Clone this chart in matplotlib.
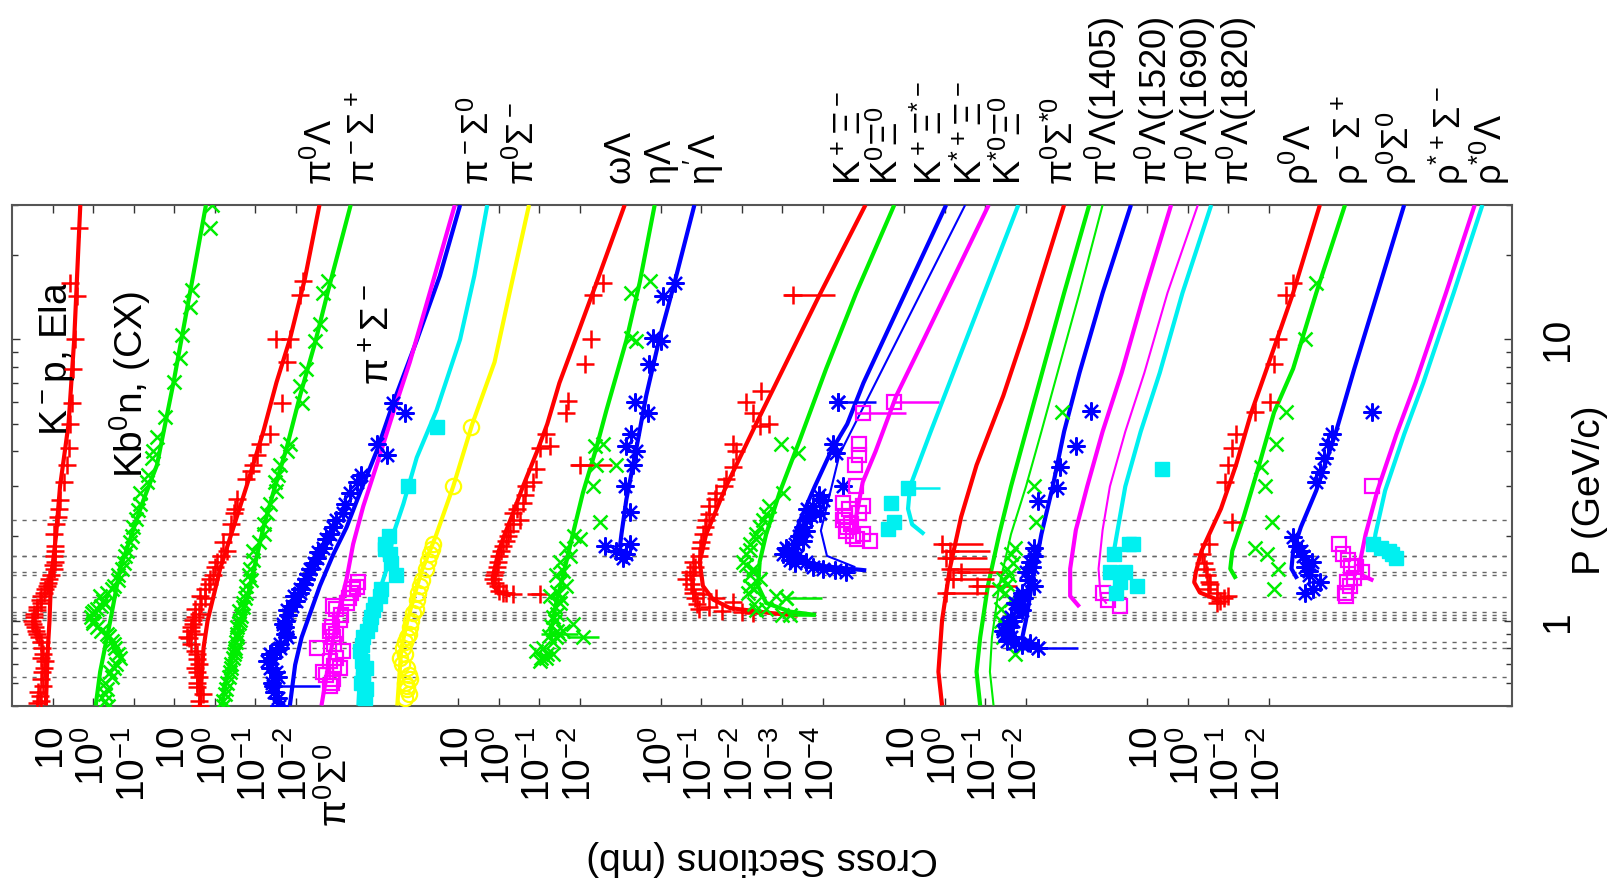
import numpy as np
import matplotlib
matplotlib.use("Agg")
import matplotlib.pyplot as plt

plt.rcParams['font.family'] = ['Liberation Sans', 'DejaVu Sans']
plt.rcParams['mathtext.default'] = 'regular'

# --- axis layout (stacked log axis: one unit = one decade) ---
XMAX = 37
PMIN, PMAX = 0.5, 30
XTICKS = [1, 2, 3, 4, 5, 6, 7, 11, 12, 13, 14, 16, 17, 18, 19, 20,
          22, 23, 24, 25, 28, 29, 30, 31]
XTICKLABELS = ['10', '10^0', '10^{-1}', '10', '10^0', '10^{-1}', '10^{-2}',
               '10', '10^0', '10^{-1}', '10^{-2}',
               '10^0', '10^{-1}', '10^{-2}', '10^{-3}', '10^{-4}',
               '10', '10^0', '10^{-1}', '10^{-2}',
               '10', '10^0', '10^{-1}', '10^{-2}']
THRESH_P = [0.629, 0.80, 0.844, 1.008, 1.027, 1.05, 1.074, 1.21, 1.457,
            1.496, 1.692, 1.70, 2.283]

TOP_LABELS = [r'\pi^0\Lambda', r'\pi^-\Sigma^+', r'\pi^-\Sigma^0', r'\pi^0\Sigma^-',
              r'\omega\Lambda', r'\eta\Lambda', r"\eta'\Lambda",
              r'K^+\Xi^-', r'K^0\Xi^0', r'K^+\Xi^{*-}', r'K^{*+}\Xi^-', r'K^{*0}\Xi^0',
              r'\pi^0\Sigma^{*0}', r'\pi^0\Lambda(1405)', r'\pi^0\Lambda(1520)',
              r'\pi^0\Lambda(1690)', r'\pi^0\Lambda(1820)',
              r'\rho^0\Lambda', r'\rho^-\Sigma^+', r'\rho^0\Sigma^0',
              r'\rho^{*+}\Sigma^-', r'\rho^{*0}\Lambda']
TOP_LABEL_X = [7.64, 8.70, 11.51, 12.62, 15.04, 16.03, 17.06,
               20.69, 21.60, 22.69, 23.68, 24.64,
               25.92, 26.95, 28.20, 29.20, 30.22,
               31.75, 33.00, 34.15, 35.45, 36.45]

# --- group 1 ---
kpe_line_p = [30, 10, 5, 3, 2, 1.5, 1.2, 1.0, 0.8, 0.5]
kpe_line_u = [1.68, 1.53, 1.39, 1.18, 1.08, 0.98, 0.94, 0.92, 0.88, 0.83]
kpe_p = [0.511, 0.54, 0.588, 0.659, 0.717, 0.759, 0.80, 0.873, 0.922, 0.977, 1.034,
         1.094, 1.19, 1.26, 1.33, 1.41, 1.53, 1.62, 1.77, 2.03, 2.34, 2.69, 3.10,
         3.57, 4.11, 5.01, 5.93, 7.86, 9.99, 14.2, 15.9, 24.9,
         0.52, 0.56, 0.62, 0.68, 0.74, 0.84, 0.90, 0.95, 1.0, 1.06, 1.12, 1.16,
         1.22, 1.3, 1.36, 1.45, 1.58, 1.7, 1.85, 2.2, 2.5]
kpe_u = [0.61, 0.68, 0.75, 0.73, 0.80, 0.77, 0.74, 0.65, 0.58, 0.52, 0.53,
         0.60, 0.69, 0.78, 0.85, 0.92, 1.02, 1.05, 1.06, 1.02, 1.14, 1.18, 1.27,
         1.35, 1.39, 1.43, 1.47, 1.51, 1.55, 1.59, 1.43, 1.64,
         0.70, 0.64, 0.72, 0.78, 0.70, 0.70, 0.62, 0.56, 0.50, 0.55, 0.62, 0.70,
         0.72, 0.82, 0.88, 0.95, 1.00, 1.04, 1.05, 1.08, 1.16]

kbn_line_p = [30, 15, 7.03, 3.57, 2.69, 2.03, 1.53, 1.0, 0.659, 0.5]
kbn_line_u = [4.78, 4.40, 3.98, 3.57, 3.24, 2.95, 2.66, 2.42, 2.17, 2.06]
kbn_p = [0.5, 0.55, 0.571, 0.6, 0.659, 0.7, 0.737, 0.80, 0.85, 0.899, 0.95, 1.0,
         1.063, 1.1, 1.15, 1.224, 1.33, 1.4, 1.53, 1.77, 1.9, 2.15, 2.47, 2.85,
         3.1, 4.0, 4.48, 5.3, 7.03, 8.57, 10.4, 13.0, 15.0, 24.9, 30,
         0.52, 0.63, 0.68, 0.76, 0.83, 0.88, 0.92, 0.98, 1.03, 1.08, 1.13, 1.18,
         1.26, 1.3, 1.45, 1.6, 1.7, 2.0, 2.3, 2.6, 3.3, 3.8]
kbn_u = [2.37, 2.30, 2.33, 2.30, 2.42, 2.55, 2.66, 2.54, 2.45, 2.33, 2.09, 2.00,
         1.96, 2.10, 2.30, 2.17, 2.50, 2.60, 2.70, 2.83, 2.90, 2.99, 3.11, 3.16,
         3.32, 3.48, 3.57, 3.77, 3.98, 4.14, 4.18, 4.39, 4.43, 4.88, 4.92,
         2.30, 2.45, 2.50, 2.60, 2.50, 2.40, 2.20, 2.00, 1.95, 2.02, 2.20, 2.25,
         2.35, 2.45, 2.62, 2.75, 2.78, 2.95, 3.05, 3.15, 3.35, 3.45]

# --- group 2 ---
pl_line_p = [30, 16.4, 10, 7.03, 4.73, 3.0, 2.15, 1.53, 1.0, 0.8, 0.5]
pl_line_u = [7.58, 7.22, 6.85, 6.52, 6.20, 5.78, 5.46, 5.13, 4.82, 4.72, 4.63]
pl_p = [16.1, 14.4, 10, 10, 8.3, 5.96, 4.6, 4.23, 3.89, 3.57, 3.19, 2.7, 2.41, 2.03,
        1.9, 1.77, 1.62, 1.41, 1.3, 1.224, 1.1, 1.005, 0.95, 0.9, 0.873, 0.759,
        0.7, 0.659, 0.6, 0.55, 0.5,
        0.52, 0.58, 0.63, 0.68, 0.73, 0.78, 0.83, 0.87, 0.92, 0.97, 1.03, 1.06,
        1.15, 1.2, 1.35, 1.45, 1.55, 1.7, 2.2, 2.5, 3.4]
pl_u = [7.18, 7.10, 6.85, 6.52, 6.77, 6.65, 6.36, 6.11, 6.03, 5.95, 5.78, 5.55, 5.46,
        5.37, 5.20, 5.29, 5.05, 4.88, 4.75, 4.63, 4.50, 4.47, 4.40, 4.50, 4.31, 4.55,
        4.60, 4.55, 4.55, 4.70, 4.63,
        4.60, 4.55, 4.62, 4.50, 4.55, 4.50, 4.40, 4.35, 4.40, 4.45, 4.50, 4.60,
        4.65, 4.75, 4.85, 4.95, 5.00, 5.15, 5.40, 5.50, 5.90]

pms_line_p = [30, 15.0, 9.7, 6.3, 4.11, 2.85, 2.15, 1.33, 0.873, 0.622, 0.5]
pms_line_u = [8.35, 7.80, 7.47, 7.10, 6.77, 6.44, 6.20, 5.87, 5.54, 5.29, 5.17]
pms_p = [16.1, 14.6, 11.3, 9.9, 7.86, 6.83, 5.94, 4.23, 4.0, 3.57, 3.1, 2.41, 2.03,
         1.77, 1.53, 1.4, 1.33, 1.2, 1.157, 1.08, 1.005, 0.95, 0.873, 0.8, 0.759,
         0.7, 0.659, 0.6, 0.55, 0.5,
         0.52, 0.57, 0.63, 0.68, 0.74, 0.78, 0.84, 0.9, 0.98, 1.04, 1.12, 1.25,
         1.45, 1.65, 1.9, 2.2, 2.6, 2.9, 3.3]
pms_u = [7.80, 7.67, 7.59, 7.47, 7.26, 7.10, 7.14, 6.85, 6.77, 6.61, 6.48, 6.28, 6.20,
         5.95, 5.87, 5.90, 5.78, 5.75, 5.70, 5.60, 5.62, 5.55, 5.54, 5.50, 5.46,
         5.40, 5.37, 5.30, 5.25, 5.21,
         5.20, 5.28, 5.35, 5.40, 5.45, 5.50, 5.52, 5.55, 5.60, 5.65, 5.70, 5.78,
         5.85, 5.95, 6.10, 6.22, 6.35, 6.50, 6.55]

ppsm_line_p = [30, 16.8, 9.9, 5.94, 4.0, 2.85, 2.15, 1.72, 1.33, 1.063, 0.873, 0.697, 0.5]
ppsm_line_u = [11.05, 10.55, 9.98, 9.40, 8.99, 8.58, 8.25, 7.92, 7.59, 7.35, 7.14, 6.98, 6.85]
ppsm_p = [5.94, 5.49, 4.23, 3.89, 3.1, 2.85, 2.41, 2.28, 2.03, 1.82, 1.67, 1.53, 1.41,
          1.295, 1.224, 1.094, 0.977, 0.873, 0.80, 0.759, 0.717, 0.659, 0.5,
          0.53, 0.56, 0.6, 0.63, 0.68, 0.74, 0.78, 0.83, 0.9, 0.95, 1.0, 1.05,
          1.13, 1.18, 1.26, 1.35, 1.47, 1.6, 1.75, 1.95, 2.15, 2.6, 3.3]
ppsm_u = [9.40, 9.69, 8.99, 9.24, 8.50, 8.33, 8.17, 8.00, 7.84, 7.67, 7.51, 7.35, 7.26,
          7.10, 6.94, 6.77, 6.69, 6.77, 6.61, 6.36, 6.28, 6.52, 6.57,
          6.55, 6.45, 6.40, 6.55, 6.35, 6.40, 6.50, 6.60, 6.72, 6.72, 6.75, 6.80,
          6.90, 7.00, 7.10, 7.20, 7.30, 7.45, 7.55, 7.75, 7.92, 8.20, 8.60]
ppsm_err_p = [0.588]
ppsm_err_u = [6.44]
ppsm_err_hi = [1.15]

p0s0_line_p = [30, 14.6, 8.3, 5.49, 3.57, 2.55, 1.87, 1.41, 1.005, 0.697, 0.5]
p0s0_line_u = [10.92, 10.30, 9.81, 9.40, 8.99, 8.66, 8.41, 8.25, 8.00, 7.80, 7.63]
p0s0_p = [1.37, 1.295, 1.157, 1.125, 1.005, 0.922, 0.873, 0.80, 0.78, 0.717, 0.659,
          0.677, 0.588, 0.622, 0.6, 0.64, 0.69, 0.74, 0.83, 0.9, 0.95, 1.05, 1.1,
          1.2, 1.25, 1.32]
p0s0_u = [8.54, 8.41, 8.25, 7.92, 8.09, 7.84, 7.92, 7.51, 8.17, 7.84, 7.67, 8.09,
          7.84, 7.92, 7.90, 7.75, 7.95, 8.00, 7.95, 8.00, 7.90, 8.10, 8.00, 8.30,
          8.35, 8.50]

pms0_line_p = [30, 16.8, 10, 5.6, 3.8, 2.6, 2.03, 1.53, 1.19, 0.873, 0.659, 0.5]
pms0_line_u = [11.72, 11.40, 11.05, 10.47, 9.98, 9.65, 9.40, 9.24, 8.99, 8.75, 8.58, 8.54]
pms0_p = [4.87, 3.0, 1.87, 1.72, 1.45, 1.224, 1.094, 0.977, 0.873, 0.78, 0.677, 0.622,
          0.571, 0.53, 0.6, 0.65, 0.72, 0.82, 0.92, 1.03, 1.15, 1.3, 1.6, 1.8, 2.0]
pms0_u = [10.47, 9.77, 9.19, 9.32, 9.48, 9.07, 8.91, 8.83, 8.66, 8.58, 8.74, 8.66,
          8.74, 8.70, 8.60, 8.65, 8.62, 8.62, 8.75, 8.85, 8.95, 9.10, 9.35, 9.20, 9.30]

p0sm_line_p = [30, 14.6, 8.3, 5, 3, 2, 1.5, 1.2, 1.0, 0.8, 0.5]
p0sm_line_u = [12.75, 12.27, 11.9, 11.35, 10.88, 10.45, 10.1, 9.9, 9.75, 9.6, 9.5]
p0sm_p = [4.87, 3.0, 1.87, 1.72, 1.53, 1.33, 1.19, 1.063, 0.95, 0.873, 0.80, 0.737,
          0.677, 0.622, 0.588, 0.55, 0.53, 0.57, 0.6, 0.64, 0.7, 0.76, 0.84, 0.9,
          1.0, 1.1, 1.25, 1.4, 1.63, 1.8]
p0sm_u = [11.33, 10.88, 10.39, 10.30, 10.22, 10.06, 9.98, 9.89, 9.81, 9.73, 9.65,
          9.56, 9.73, 9.81, 9.73, 9.80, 9.70, 9.75, 9.70, 9.78, 9.62, 9.68, 9.70,
          9.78, 9.85, 9.95, 10.02, 10.10, 10.26, 10.35]

# --- group 3 ---
wl_line_p = [30, 16.1, 10, 7, 5, 4, 3, 2.4, 2.03, 1.77, 1.53, 1.41, 1.33, 1.26, 1.23]
wl_line_u = [15.11, 14.43, 13.9, 13.5, 13.2, 12.95, 12.6, 12.35, 12.15, 12.0, 11.9,
             11.85, 11.88, 12.0, 12.3]
wl_p = [15.9, 14.4, 10, 8.2, 6.02, 5.49, 4.6, 4.11, 4.17, 3.47, 3.1, 3.0, 2.62, 2.28,
        2.41, 2.09, 1.92, 1.77, 1.62, 1.49, 1.41, 1.33, 1.26, 1.24,
        1.25, 1.28, 1.36, 1.45, 1.55, 1.7, 1.85, 2.0, 2.2, 2.5, 2.8]
wl_u = [14.57, 14.33, 14.29, 14.12, 13.71, 13.67, 13.18, 13.01, 13.26, 12.93, 12.85,
        12.68, 12.60, 12.52, 12.36, 12.27, 12.19, 12.07, 11.99, 11.90, 11.86, 11.99,
        12.19, 12.36,
        12.10, 12.00, 11.90, 11.88, 11.95, 12.02, 12.12, 12.22, 12.35, 12.45, 12.65]
wl_err_p = [3.57, 1.24]
wl_err_u = [14.0, 13.01]
wl_err_lo = [0.25, 0.3]
wl_err_hi = [0.8, 0.0]

el_line_p = [30, 15.9, 9.9, 5.6, 4.11, 2.85, 2.03, 1.53, 1.157, 0.873]
el_line_u = [15.85, 15.48, 15.15, 14.66, 14.41, 14.08, 13.83, 13.63, 13.42, 13.26]
el_p = [16.1, 14.6, 10.1, 9.9, 4.17, 4.23, 3.57, 3.0, 2.24, 1.95, 1.82, 1.62, 1.45,
        1.33, 1.224, 1.157, 1.034, 0.977, 0.922, 0.873, 0.78, 0.739, 0.717, 0.759,
        0.74, 0.76, 0.8, 0.84, 0.88, 0.92, 0.96, 1.0, 1.06, 1.12, 1.2, 1.27, 1.38,
        1.5, 1.7, 2.0]
el_u = [15.73, 15.27, 15.27, 15.40, 14.37, 14.57, 14.41, 14.33, 14.49, 14.0, 13.67,
        13.51, 13.42, 13.67, 13.26, 13.51, 13.34, 13.83, 13.59, 13.42, 12.93, 13.18,
        13.01, 13.34,
        13.05, 13.20, 13.10, 13.35, 13.25, 13.45, 13.30, 13.40, 13.45, 13.40, 13.55,
        13.45, 13.55, 13.60, 13.75, 13.85]
el_err_p = [3.57, 0.873, 0.9]
el_err_u = [14.90, 14.08, 13.5]
el_err_x = [0.0, 0.4, 0.45]

epl_line_p = [30, 15.9, 10.1, 6.3, 4.11, 2.69, 2.03, 1.82]
epl_line_u = [16.83, 16.34, 15.97, 15.64, 15.40, 15.15, 15.03, 14.99]
epl_p = [15.9, 14.2, 10.1, 9.9, 8.2, 6.0, 5.49, 4.6, 4.17, 4.0, 3.57, 3.0, 2.44, 1.84,
         1.77, 1.72, 1.87, 1.67]
epl_u = [16.34, 16.05, 15.81, 16.01, 15.72, 15.36, 15.69, 15.27, 15.15, 15.40, 15.32,
         15.11, 15.23, 14.62, 14.90, 15.15, 15.23, 15.07]

# --- group 4 ---
kpxm_line_p = [30, 14.4, 5.0, 3.0, 2.03, 1.62, 1.33, 1.19, 1.11, 1.063, 1.043]
kpxm_line_u = [21.05, 19.92, 18.35, 17.61, 17.12, 16.96, 17.04, 17.29, 17.70, 18.76, 19.38]
kpxm_p = [6.55, 6.0, 5.49, 4.93, 5.0, 4.23, 4.0, 3.52, 3.0, 2.85, 2.55, 2.28, 2.03,
          1.82, 1.62, 1.49, 1.41, 1.295, 1.24, 1.207, 1.17, 1.063,
          1.1, 1.15, 1.2, 1.26, 1.35, 1.45, 1.55, 1.7, 1.9, 2.15, 2.4, 2.7, 3.2,
          1.08, 1.12, 1.07]
kpxm_u = [18.48, 18.11, 18.27, 18.44, 18.68, 17.78, 17.86, 17.78, 17.57, 17.37, 17.20,
          17.12, 17.04, 16.96, 16.79, 16.71, 16.63, 16.79, 17.04, 17.37, 17.78, 18.27,
          16.95, 16.90, 16.85, 16.80, 16.75, 16.80, 16.85, 16.95, 17.00, 17.10, 17.20,
          17.35, 17.60, 17.50, 17.20, 18.00]
kpxm_err_p = [14.4]
kpxm_err_u = [19.26]

k0x0_line_p = [30, 14.6, 7.86, 4.35, 2.85, 2.03, 1.62, 1.33, 1.157, 1.078, 1.048]
k0x0_line_u = [21.76, 20.82, 20.08, 19.42, 18.93, 18.60, 18.44, 18.40, 18.60, 19.18, 19.83]
k0x0_p = [4.23, 3.94, 2.85, 2.55, 2.28, 2.03, 1.87, 1.72, 1.62, 1.53, 1.41, 1.33,
          1.224, 1.207, 1.094, 1.15, 1.25, 1.3, 1.45, 1.58, 1.78, 1.95, 2.15, 2.4,
          1.1, 1.05]
k0x0_u = [18.97, 19.38, 19.01, 18.68, 18.52, 18.35, 18.19, 18.11, 18.03, 18.27, 18.44,
          18.19, 18.85, 19.09, 18.35, 18.30, 18.15, 18.30, 18.20, 18.10, 18.20, 18.35,
          18.45, 18.60, 18.60, 19.00]
k0x0_err_p = [1.207, 1.048]
k0x0_err_u = [19.09, 19.2]
k0x0_err_hi = [0.9, 0.6]

kpxs_line_p = [30, 10, 7, 5, 4, 3, 2.3, 2.0, 1.77, 1.62, 1.56, 1.51]
kpxs_line_u = [23.04, 21.5, 21.0, 20.6, 20.2, 19.8, 19.45, 19.3, 19.34, 19.59, 20.08, 21.07]
kpxs_p = [6.0, 4.23, 3.94, 3.0, 2.69, 2.55, 2.41, 2.28, 2.09, 1.92, 1.82, 1.72, 1.62,
          1.53, 1.49, 1.6, 1.65, 1.7, 1.78, 1.87, 2.0, 2.15, 2.35, 2.5, 2.8, 1.55, 1.52]
kpxs_u = [20.37, 20.24, 20.33, 20.49, 20.0, 19.75, 19.92, 19.59, 19.59, 19.51, 19.09,
          19.01, 19.59, 20.0, 20.57, 19.30, 19.20, 19.35, 19.15, 19.30, 19.40, 19.50,
          19.70, 19.60, 19.90, 19.75, 20.30]
kpxs_err_p = [6.0]
kpxs_err_u = [20.37]

ksxm_line_p = [30, 10.4, 3.9, 2.09, 1.7, 1.55]
ksxm_line_u = [23.51, 21.9, 20.41, 19.95, 20.1, 20.8]

ksx0_line_p = [30, 10, 6.3, 4, 3.1, 2.34, 2.03]
ksx0_line_u = [24.09, 22.49, 21.81, 21.3, 20.98, 20.82, 20.85]
ksx0_p = [4.23, 3.89, 3.57, 3.0, 2.62, 2.55, 2.41, 2.28, 2.09, 2.03, 1.92,
          2.2, 2.15, 2.0, 1.95, 2.35, 2.5]
ksx0_u = [20.90, 20.90, 20.78, 20.82, 20.49, 20.98, 20.90, 20.49, 20.57, 20.98, 21.15,
          20.70, 20.60, 20.75, 20.85, 20.55, 20.65]
ksx0_err_p = [6.0, 5.49]
ksx0_err_u = [21.76, 20.98]
ksx0_err_lo = [0.0, 0.16]
ksx0_err_hi = [1.1, 1.07]

k0xs_line_p = [30, 8.3, 4.7, 3.0, 2.5, 2.2, 2.03]
k0xs_line_u = [24.82, 23.32, 22.66, 22.15, 22.1, 22.2, 22.5]
k0xs_p = [2.62, 2.24, 2.12]
k0xs_u = [21.68, 21.76, 21.60]
k0xs_err_p = [2.97]
k0xs_err_u = [22.09]

# --- group 5 ---
p0ss_line_p = [30, 11, 6.3, 3.57, 2.34, 1.53, 1.005, 0.659, 0.5]
p0ss_line_u = [25.95, 25.01, 24.45, 23.79, 23.41, 23.13, 22.94, 22.85, 22.94]
p0ss_p = [1.87, 1.77, 1.67, 1.53, 1.49, 1.41, 1.33, 1.26]
p0ss_u = [22.94, 23.13, 23.04, 23.13, 23.41, 23.22, 23.79, 23.04]

l1405_line_p = [30, 14.6, 8.3, 4.7, 3.0, 2.03, 1.33, 0.873, 0.659, 0.5]
l1405_line_u = [26.57, 25.95, 25.48, 25.01, 24.64, 24.35, 24.07, 23.88, 23.79, 23.88]
l1405b_line_u = [26.90, 26.33, 25.86, 25.39, 25.01, 24.64, 24.35, 24.17, 24.12, 24.21]
l1405_p = [5.52, 3.0, 2.24, 1.82, 1.72, 1.53, 1.41, 1.295, 1.19, 0.873, 0.759,
           1.25, 1.35, 1.45, 1.6, 1.1, 1.0, 0.95]
l1405_u = [25.91, 25.20, 25.25, 24.73, 24.64, 24.54, 24.45, 24.35, 24.64, 24.45, 24.73,
           24.50, 24.55, 24.60, 24.70, 24.40, 24.40, 24.50]

b5_line_p = [30, 14.6, 7.6, 4.7, 3.0, 2.03, 1.33, 1.005, 0.873, 0.78]
b5_line_u = [27.60, 26.90, 26.33, 25.95, 25.67, 25.39, 25.15, 25.01, 24.92, 25.1]
b5_p = [5.57, 4.17, 3.52, 2.97, 2.66, 1.82, 1.62, 1.49, 1.33, 1.224, 1.157, 1.094,
        1.034, 0.977, 0.922, 0.873, 0.837, 0.80, 0.837,
        1.1, 1.15, 1.2, 1.26, 1.4, 1.55, 1.7, 1.0, 0.95, 0.9, 0.85, 0.82]
b5_u = [26.61, 26.24, 25.86, 25.77, 25.30, 25.20, 25.11, 25.01, 25.20, 24.92, 24.73,
        24.92, 24.64, 24.54, 24.45, 24.64, 25.11, 25.30, 24.73,
        24.85, 24.80, 24.95, 24.90, 25.05, 25.15, 25.20, 24.70, 24.60, 24.50, 24.55,
        24.90]
b5_err_p = [0.80]
b5_err_u = [25.30]

l1520_line_p = [30, 14.6, 7.6, 4.7, 3.0, 2.1, 1.53, 1.224, 1.12]
l1520_line_u = [28.59, 27.93, 27.37, 26.90, 26.52, 26.24, 26.10, 26.10, 26.33]
l1690_line_p = [30, 14.6, 7.6, 4.7, 3.0, 2.1, 1.53, 1.224, 1.15]
l1690_line_u = [29.25, 28.50, 27.93, 27.46, 27.08, 26.90, 26.80, 26.85, 27.0]
m5_p = [1.26, 1.19, 1.125]
m5_u = [26.90, 27.04, 27.32]
l1820_line_p = [30, 14.6, 7.6, 4.7, 3.0, 2.1, 1.77]
l1820_line_u = [29.58, 28.87, 28.31, 27.84, 27.46, 27.27, 27.18]
c5_p = [1.87, 1.87, 1.72, 1.49, 1.49, 1.37, 1.33, 1.26, 3.47]
c5_u = [27.56, 27.65, 27.18, 27.08, 27.46, 27.32, 27.74, 27.22, 28.36]

# --- group 6 ---
r0l_line_p = [30, 14.6, 7.86, 5.5, 3.57, 2.5, 2.03, 1.77, 1.49, 1.37, 1.26, 1.19]
r0l_line_u = [32.26, 31.60, 30.95, 30.57, 30.19, 29.82, 29.53, 29.34, 29.20, 29.16, 29.30, 29.72]
r0l_p = [15.9, 14.4, 10, 8.2, 6.0, 5.52, 4.6, 4.11, 3.57, 3.1, 2.24, 1.87, 1.72, 1.53,
         1.37, 1.26, 1.224, 1.157, 1.3, 1.35, 1.45, 1.6, 1.2, 1.18]
r0l_u = [31.60, 31.42, 31.23, 31.13, 31.04, 30.66, 30.19, 30.10, 30.0, 29.91, 30.10,
         29.53, 29.34, 29.44, 29.53, 29.72, 30.0, 29.72, 29.50, 29.55, 29.48, 29.40,
         29.90, 29.80]

rmsp_line_p = [30, 14.6, 7.86, 5.5, 3.57, 2.34, 1.77, 1.53, 1.41]
rmsp_line_u = [32.88, 32.17, 31.60, 31.13, 30.76, 30.38, 30.10, 30.05, 30.19]
rmsp_p = [15.9, 10, 5.52, 4.23, 3.52, 3.0, 2.24, 1.82, 1.72, 1.53, 1.295]
rmsp_u = [32.17, 31.89, 31.42, 31.18, 30.80, 30.90, 31.08, 30.66, 30.95, 31.23, 31.13]

r0s0_line_p = [30, 14.6, 7.86, 4.6, 2.9, 2.15, 1.77, 1.53, 1.41]
r0s0_line_u = [34.34, 33.68, 33.11, 32.64, 32.17, 31.79, 31.60, 31.56, 31.70]
r0s0_p = [5.52, 4.6, 4.23, 3.78, 3.37, 3.1, 1.98, 1.77, 1.62, 1.45, 1.37, 1.26,
          1.55, 1.5, 1.7, 1.85, 1.3]
r0s0_u = [33.54, 32.55, 32.45, 32.36, 32.26, 32.17, 31.60, 31.79, 32.07, 31.98, 32.26,
          31.89, 31.90, 32.00, 31.85, 31.70, 32.10]

rspsm_line_p = [30, 14.6, 7.0, 4.6, 2.9, 2.03, 1.62, 1.45, 1.39]
rspsm_line_u = [36.08, 35.37, 34.62, 34.15, 33.68, 33.39, 33.25, 33.30, 33.58]
rspsm_p = [3.0, 1.87, 1.72, 1.57, 1.49, 1.37, 1.26, 1.42, 1.33, 1.55, 1.65, 1.22]
rspsm_u = [33.54, 32.73, 32.83, 33.02, 33.30, 32.92, 32.88, 33.10, 33.00, 33.15,
           32.95, 32.90]

rs0l_line_p = [30, 14.6, 7.0, 4.6, 2.9, 2.03, 1.82]
rs0l_line_u = [36.27, 35.56, 34.81, 34.34, 33.87, 33.63, 33.59]
rs0l_p = [1.87, 1.82, 1.77, 1.67, 1.72]
rs0l_u = [33.58, 33.77, 33.96, 34.15, 34.05]

RED, GREEN, BLUE = '#ff0000', '#00ee00', '#0000ff'
MAGENTA, CYAN, YELLOW = '#ff00ff', '#00f0f0', '#ffff00'

fig = plt.figure(figsize=(16.14, 8.88), dpi=100)
ax = fig.add_axes([12.2 / 1614, 1 - 705.5 / 888, 1499.8 / 1614, 500.5 / 888])
ax.set_yscale('log')
ax.set_xlim(0, XMAX)
ax.set_ylim(PMIN, PMAX)

for p in THRESH_P:
    ax.axhline(p, color='#666666', lw=1.0, dashes=(3, 4.2), zorder=1)

STY = {'+': dict(marker='+', ms=13, mew=1.8),
       'x': dict(marker='x', ms=10, mew=1.8),
       '*': dict(marker=(8, 2, 0), ms=13, mew=1.6),
       'os': dict(marker='s', ms=10, mew=1.6, mfc='none'),
       'fs': dict(marker='s', ms=10, mew=1.0),
       'oo': dict(marker='o', ms=11, mew=1.6, mfc='none')}


def curve(p, u, color, lw=3.0):
    ax.plot(u, p, color=color, lw=lw, zorder=3, solid_capstyle='butt')


def points(p, u, color, kind):
    ax.plot(u, p, ls='none', color=color, zorder=4, **STY[kind])


def errpts(p, u, lo, hi, color, kind):
    ax.errorbar(u, p, xerr=[lo, hi], fmt='none', ecolor=color, elinewidth=1.8, zorder=4)
    points(p, u, color, kind)


# group 1
curve(kpe_line_p, kpe_line_u, RED)
points(kpe_p, kpe_u, RED, '+')
curve(kbn_line_p, kbn_line_u, GREEN)
points(kbn_p, kbn_u, GREEN, 'x')
# group 2
curve(pl_line_p, pl_line_u, RED)
points(pl_p, pl_u, RED, '+')
curve(pms_line_p, pms_line_u, GREEN)
points(pms_p, pms_u, GREEN, 'x')
curve(ppsm_line_p, ppsm_line_u, BLUE)
points(ppsm_p, ppsm_u, BLUE, '*')
errpts(ppsm_err_p, ppsm_err_u, [0.0], ppsm_err_hi, BLUE, '*')
curve(p0s0_line_p, p0s0_line_u, MAGENTA)
points(p0s0_p, p0s0_u, MAGENTA, 'os')
curve(pms0_line_p, pms0_line_u, CYAN)
points(pms0_p, pms0_u, CYAN, 'fs')
curve(p0sm_line_p, p0sm_line_u, YELLOW)
points(p0sm_p, p0sm_u, YELLOW, 'oo')
# group 3
curve(wl_line_p, wl_line_u, RED)
points(wl_p, wl_u, RED, '+')
errpts(wl_err_p, wl_err_u, wl_err_lo, wl_err_hi, RED, '+')
curve(el_line_p, el_line_u, GREEN)
points(el_p, el_u, GREEN, 'x')
errpts(el_err_p, el_err_u, el_err_x, el_err_x, GREEN, 'x')
curve(epl_line_p, epl_line_u, BLUE)
points(epl_p, epl_u, BLUE, '*')
# group 4
curve(kpxm_line_p, kpxm_line_u, RED)
points(kpxm_p, kpxm_u, RED, '+')
errpts(kpxm_err_p, kpxm_err_u, [0.24], [1.03], RED, '+')
curve(k0x0_line_p, k0x0_line_u, GREEN)
points(k0x0_p, k0x0_u, GREEN, 'x')
errpts(k0x0_err_p, k0x0_err_u, [0.0, 0.0], k0x0_err_hi, GREEN, 'x')
curve(kpxs_line_p, kpxs_line_u, BLUE)
points(kpxs_p, kpxs_u, BLUE, '*')
errpts(kpxs_err_p, kpxs_err_u, [0.2], [0.95], BLUE, '*')
curve(ksxm_line_p, ksxm_line_u, BLUE, lw=1.5)
curve(ksx0_line_p, ksx0_line_u, MAGENTA)
points(ksx0_p, ksx0_u, MAGENTA, 'os')
errpts(ksx0_err_p, ksx0_err_u, ksx0_err_lo, ksx0_err_hi, MAGENTA, 'os')
curve(k0xs_line_p, k0xs_line_u, CYAN)
points(k0xs_p, k0xs_u, CYAN, 'fs')
errpts(k0xs_err_p, k0xs_err_u, [0.0], [0.8], CYAN, 'fs')
# group 5
curve(p0ss_line_p, p0ss_line_u, RED)
errpts(p0ss_p, p0ss_u, [0.1] * len(p0ss_p), [1.0] * len(p0ss_p), RED, '+')
curve(l1405_line_p, l1405_line_u, GREEN)
curve(l1405_line_p, l1405b_line_u, GREEN, lw=1.5)
points(l1405_p, l1405_u, GREEN, 'x')
curve(b5_line_p, b5_line_u, BLUE)
points(b5_p, b5_u, BLUE, '*')
errpts(b5_err_p, b5_err_u, [0.0], [1.0], BLUE, '*')
curve(l1520_line_p, l1520_line_u, MAGENTA)
curve(l1690_line_p, l1690_line_u, MAGENTA, lw=1.5)
points(m5_p, m5_u, MAGENTA, 'os')
curve(l1820_line_p, l1820_line_u, CYAN)
points(c5_p, c5_u, CYAN, 'fs')
# group 6
curve(r0l_line_p, r0l_line_u, RED)
points(r0l_p, r0l_u, RED, '+')
curve(rmsp_line_p, rmsp_line_u, GREEN)
points(rmsp_p, rmsp_u, GREEN, 'x')
curve(r0s0_line_p, r0s0_line_u, BLUE)
points(r0s0_p, r0s0_u, BLUE, '*')
curve(rspsm_line_p, rspsm_line_u, MAGENTA)
points(rspsm_p, rspsm_u, MAGENTA, 'os')
curve(rs0l_line_p, rs0l_line_u, CYAN)
points(rs0l_p, rs0l_u, CYAN, 'fs')

FS = 28
FS_TOP = 26
# axes, ticks
for s in ax.spines.values():
    s.set_color('#555555')
    s.set_linewidth(1.5)
ax.set_xticks(XTICKS, ['$' + t + '$' for t in XTICKLABELS])
ax.tick_params(axis='x', which='both', direction='in', top=True, bottom=True,
               length=6, width=1, color='#333333', labelsize=FS,
               labelrotation=90, pad=15)
ax.set_yticks([1, 10], ['1', '10'])
ax.set_yticks([0.5, 0.6, 0.7, 0.8, 0.9, 2, 3, 4, 5, 6, 7, 8, 9, 20, 30], minor=True)
ax.yaxis.set_minor_formatter(matplotlib.ticker.NullFormatter())
ax.tick_params(axis='y', which='both', direction='in', left=True, right=True,
               labelleft=False, labelright=True, color='#333333', labelsize=FS,
               labelrotation=90, pad=20)
ax.tick_params(axis='y', which='major', length=6, width=1)
ax.tick_params(axis='y', which='minor', length=4, width=1)
for lab in ax.get_yticklabels():
    lab.set_va('center')

ax.yaxis.set_label_position('right')
ax.set_ylabel('P (GeV/c)', fontsize=FS, rotation=90)
ax.yaxis.set_label_coords(1.040, 0.43)
ax.set_xlabel('Cross Sections (mb)', fontsize=FS, rotation=180)
ax.xaxis.set_label_coords(0.5, -0.34)
ax.xaxis.label.set_va('bottom')

# series names
trans = ax.get_xaxis_transform()
for lab, xu in zip(TOP_LABELS, TOP_LABEL_X):
    ax.text(xu, 1.040, '$' + lab + '$', transform=trans, rotation=90,
            ha='center', va='bottom', fontsize=FS_TOP)
ax.text(1.10, 8.58, r'K$^-$p, Ela', rotation=90, ha='center', va='center', fontsize=FS)
ax.text(2.90, 6.88, r'Kb$^0$n, (CX)', rotation=90, ha='center', va='center', fontsize=FS)
ax.text(9.07, 10.4, r'$\pi^+\Sigma^-$', rotation=90, ha='center', va='center', fontsize=FS)
ax.text(7.99, -0.159, r'$\pi^0\Sigma^0$', transform=trans, rotation=90,
        ha='center', va='center', fontsize=FS)

fig.savefig('out.png', dpi=100)
